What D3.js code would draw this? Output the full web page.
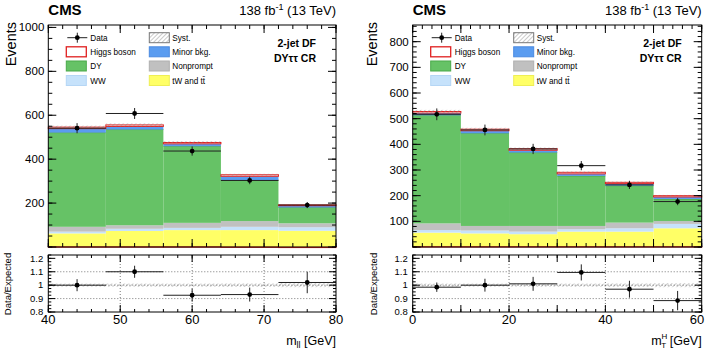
<!DOCTYPE html>
<html>
<head>
<meta charset="utf-8">
<script src="https://cdn.jsdelivr.net/npm/d3@7"></script>
<style>
  body { margin: 0; background: #fff; }
  svg { display: block; font-family: "Liberation Sans", Arial, sans-serif; }
</style>
</head>
<body>
<svg id="chart" width="706" height="352"></svg>
<script>
/* Two CMS-style stacked histograms (m_ll and m_T^H) with Data/Expected ratio pads. */

// ---- left: m_ll ----
var mllEdges = [40, 48, 56, 64, 72, 80];
var mllLow = [3, 3, 3, 2, 1];
var mllTop = [59, 70, 74, 75, 73];
var mllWW = [8, 10, 10, 15, 16];
var mllNonprompt = [22, 16, 23, 26, 18];
var mllDY = [429, 436, 349, 187, 72];
var mllMinor = [18, 14, 11, 17, 8];
var mllHiggs = [7, 7, 6, 7, 4];
var mllData = [541, 608, 437, 303, 191];
var mllDataErr = [23, 25, 21, 17, 14];
var mllRatio = [1.0, 1.10, 0.925, 0.93, 1.02];
var mllRatioErr = [0.045, 0.045, 0.048, 0.052, 0.08];
var mllSyst = [0.012, 0.012, 0.012, 0.013, 0.015];

// ---- right: m_T^H ----
var mthEdges = [0, 10, 20, 30, 40, 50, 60];
var mthLow = [3, 3, 3, 3, 3, 3];
var mthTop = [53, 50, 47, 57, 57, 70];
var mthWW = [10, 11, 10, 9, 13, 17];
var mthNonprompt = [26, 18, 22, 13, 22, 11];
var mthDY = [421, 361, 286, 195, 144, 86];
var mthMinor = [9, 10, 9, 8, 8, 8];
var mthHiggs = [6, 6, 6, 6, 5, 5];
var mthData = [517, 456, 382, 317, 242, 177];
var mthDataErr = [23, 21, 20, 18, 16, 14];
var mthRatio = [0.985, 1.0, 1.01, 1.095, 0.97, 0.885];
var mthRatioErr = [0.035, 0.048, 0.052, 0.06, 0.063, 0.072];
var mthSyst = [0.012, 0.012, 0.012, 0.012, 0.013, 0.015];

var svg = d3.select("#chart");
var defs = svg.append("defs");
var pat = defs.append("pattern").attr("id", "hatch").attr("patternUnits", "userSpaceOnUse")
  .attr("width", 3).attr("height", 3).attr("patternTransform", "rotate(45)");
pat.append("line").attr("x1", 0).attr("y1", 0).attr("x2", 0).attr("y2", 3)
  .attr("stroke", "#8a8a8a").attr("stroke-width", 0.9);

var C = {
  low: "#ff7a2a", top: "#ffff66", ww: "#c6e2fb", np: "#c0c0c0",
  dy: "#66c266", dyLine: "#3c9a3c", minor: "#5a9cf0", higgs: "#e02020"
};

function ticksX(g, x, vals, len, yb, yt) {
  vals.forEach(function (v) {
    g.append("line").attr("x1", x(v)).attr("x2", x(v)).attr("y1", yb).attr("y2", yb - len).attr("stroke", "#000");
    g.append("line").attr("x1", x(v)).attr("x2", x(v)).attr("y1", yt).attr("y2", yt + len).attr("stroke", "#000");
  });
}
function ticksY(g, y, vals, len, xl, xr) {
  vals.forEach(function (v) {
    g.append("line").attr("y1", y(v)).attr("y2", y(v)).attr("x1", xl).attr("x2", xl + len).attr("stroke", "#000");
    g.append("line").attr("y1", y(v)).attr("y2", y(v)).attr("x1", xr).attr("x2", xr - len).attr("stroke", "#000");
  });
}

function drawPanel(p) {
  var top = 25, bot = 247, rTop = 255, rBot = 312;
  var x = d3.scaleLinear().domain([p.edges[0], p.edges[p.edges.length - 1]]).range([p.x0, p.x1]);
  var y = d3.scaleLinear().domain([0, p.yMax]).range([bot, top]);
  var yr = d3.scaleLinear().domain([0.8, 1.225]).range([rBot, rTop]);
  var g = svg.append("g");
  var nb = p.edges.length - 1;

  var layers = [
    { v: p.low, fill: C.low, stroke: C.higgs },
    { v: p.top, fill: C.top, stroke: "none" },
    { v: p.ww, fill: C.ww, stroke: "none" },
    { v: p.np, fill: C.np, stroke: "none" },
    { v: p.dy, fill: C.dy, stroke: "none", topLine: C.dyLine },
    { v: p.minor, fill: C.minor, stroke: "none" },
    { v: p.higgs, fill: "#fff", stroke: C.higgs }
  ];
  var cum = d3.range(nb).map(function () { return 0; });
  layers.forEach(function (L) {
    for (var i = 0; i < nb; i++) {
      var lo = cum[i], hi = cum[i] + L.v[i];
      g.append("rect").attr("x", x(p.edges[i])).attr("width", x(p.edges[i + 1]) - x(p.edges[i]))
        .attr("y", y(hi)).attr("height", Math.max(0.8, y(lo) - y(hi)))
        .attr("fill", L.fill).attr("stroke", L.stroke).attr("stroke-width", 1);
      if (L.topLine) {
        g.append("line").attr("x1", x(p.edges[i])).attr("x2", x(p.edges[i + 1]))
          .attr("y1", y(hi)).attr("y2", y(hi)).attr("stroke", L.topLine).attr("stroke-width", 0.8);
      }
      cum[i] = hi;
    }
  });
  // syst band
  for (var i = 0; i < nb; i++) {
    g.append("rect").attr("x", x(p.edges[i])).attr("width", x(p.edges[i + 1]) - x(p.edges[i]))
      .attr("y", y(cum[i] * (1 + p.syst[i]))).attr("height", y(cum[i] * (1 - p.syst[i])) - y(cum[i] * (1 + p.syst[i])))
      .attr("fill", "url(#hatch)");
  }
  // data
  for (var i = 0; i < nb; i++) {
    var xc = x((p.edges[i] + p.edges[i + 1]) / 2);
    g.append("line").attr("x1", x(p.edges[i])).attr("x2", x(p.edges[i + 1]))
      .attr("y1", y(p.data[i])).attr("y2", y(p.data[i])).attr("stroke", "#222").attr("stroke-width", 1);
    g.append("line").attr("x1", xc).attr("x2", xc)
      .attr("y1", y(p.data[i] - p.dataErr[i])).attr("y2", y(p.data[i] + p.dataErr[i])).attr("stroke", "#222").attr("stroke-width", 1);
    g.append("circle").attr("cx", xc).attr("cy", y(p.data[i])).attr("r", 2.4).attr("fill", "#000");
  }
  // main frame + ticks
  g.append("rect").attr("x", p.x0).attr("y", top).attr("width", p.x1 - p.x0).attr("height", bot - top)
    .attr("fill", "none").attr("stroke", "#000");
  ticksY(g, y, p.yMinor, 4, p.x0, p.x1);
  ticksY(g, y, p.yMajor, 8, p.x0, p.x1);
  ticksX(g, x, p.xMinor, 4, bot, top);
  ticksX(g, x, p.xMajor, 8, bot, top);
  p.yMajor.filter(function (v) { return v > 0; }).forEach(function (v) {
    g.append("text").attr("x", p.x0 - 4).attr("y", y(v) + 4).attr("text-anchor", "end")
      .attr("font-size", 11.5).text(v);
  });

  // ratio pad
  var r = svg.append("g");
  for (var i = 0; i < nb; i++) {
    r.append("rect").attr("x", x(p.edges[i])).attr("width", x(p.edges[i + 1]) - x(p.edges[i]))
      .attr("y", yr(1 + p.syst[i])).attr("height", yr(1 - p.syst[i]) - yr(1 + p.syst[i]))
      .attr("fill", "url(#hatch)");
  }
  [0.9, 1.0, 1.1].forEach(function (v) {
    r.append("line").attr("x1", p.x0).attr("x2", p.x1).attr("y1", yr(v)).attr("y2", yr(v))
      .attr("stroke", "#555").attr("stroke-dasharray", "1,2").attr("stroke-width", 0.8);
  });
  p.xGrid.forEach(function (v) {
    r.append("line").attr("x1", x(v)).attr("x2", x(v)).attr("y1", rTop).attr("y2", rBot)
      .attr("stroke", "#555").attr("stroke-dasharray", "1,2").attr("stroke-width", 0.8);
  });
  for (var i = 0; i < nb; i++) {
    var xc = x((p.edges[i] + p.edges[i + 1]) / 2);
    r.append("line").attr("x1", x(p.edges[i])).attr("x2", x(p.edges[i + 1]))
      .attr("y1", yr(p.ratio[i])).attr("y2", yr(p.ratio[i])).attr("stroke", "#222");
    r.append("line").attr("x1", xc).attr("x2", xc)
      .attr("y1", yr(p.ratio[i] - p.ratioErr[i])).attr("y2", yr(p.ratio[i] + p.ratioErr[i])).attr("stroke", "#222");
    r.append("circle").attr("cx", xc).attr("cy", yr(p.ratio[i])).attr("r", 2.4).attr("fill", "#000");
  }
  r.append("rect").attr("x", p.x0).attr("y", rTop).attr("width", p.x1 - p.x0).attr("height", rBot - rTop)
    .attr("fill", "none").attr("stroke", "#000");
  ticksY(r, yr, d3.range(0.8, 1.2251, 0.025), 3, p.x0, p.x1);
  ticksY(r, yr, [0.8, 0.9, 1.0, 1.1, 1.2], 7, p.x0, p.x1);
  ticksX(r, x, p.xMinor, 3, rBot, rTop);
  ticksX(r, x, p.xMajor, 7, rBot, rTop);
  ["0.8", "0.9", "1", "1.1", "1.2"].forEach(function (t) {
    r.append("text").attr("x", p.x0 - 5).attr("y", yr(+t) + 3.3).attr("text-anchor", "end")
      .attr("font-size", 9.5).text(t);
  });
  p.xLabels.forEach(function (v) {
    // keep the last label inside the page edge
    var xp = Math.min(x(v), 697);
    r.append("text").attr("x", xp).attr("y", 324).attr("text-anchor", "middle")
      .attr("font-size", 13).text(v);
  });

  // titles
  svg.append("text").attr("transform", "translate(" + p.evX + ",22) rotate(-90)")
    .attr("text-anchor", "end").attr("font-size", 14.5).text("Events");
  svg.append("text").attr("transform", "translate(" + p.ratX + ",284) rotate(-90)")
    .attr("text-anchor", "middle").attr("font-size", 9.5).text("Data/Expected");
  var xt = svg.append("text").attr("x", p.x1).attr("y", 345).attr("text-anchor", "end").attr("font-size", 12.5);
  p.xTitle(xt);
  svg.append("text").attr("x", p.x0).attr("y", 14.5).attr("font-weight", "bold").attr("font-size", 15).text("CMS");
  var lt = svg.append("text").attr("x", p.x1).attr("y", 14.5).attr("text-anchor", "end").attr("font-size", 13);
  lt.append("tspan").text("138 fb");
  lt.append("tspan").attr("dy", -5).attr("font-size", 9).text("-1");
  lt.append("tspan").attr("dy", 5).text(" (13 TeV)");

  // legend
  var lg = svg.append("g").attr("font-size", 8.2);
  var rows = [37.7, 51.8, 66, 80.5];
  lg.append("line").attr("x1", p.x0 + 19).attr("x2", p.x0 + 39).attr("y1", rows[0]).attr("y2", rows[0]).attr("stroke", "#222");
  lg.append("line").attr("x1", p.x0 + 29).attr("x2", p.x0 + 29).attr("y1", rows[0] - 5).attr("y2", rows[0] + 5).attr("stroke", "#222");
  lg.append("circle").attr("cx", p.x0 + 29).attr("cy", rows[0]).attr("r", 2.4).attr("fill", "#000");
  lg.append("text").attr("x", p.x0 + 42).attr("y", rows[0] + 3).text("Data");
  var items = [
    { col: 0, row: 1, fill: "#fff", stroke: C.higgs, sw: 1.3, label: "Higgs boson" },
    { col: 0, row: 2, fill: C.dy, stroke: "#4aa94a", sw: 1, label: "DY" },
    { col: 0, row: 3, fill: C.ww, stroke: "#b5d6f5", sw: 1, label: "WW" },
    { col: 1, row: 0, fill: "url(#hatch)", stroke: "#777", sw: 1, label: "Syst." },
    { col: 1, row: 1, fill: C.minor, stroke: "#4a8ae0", sw: 1, label: "Minor bkg." },
    { col: 1, row: 2, fill: C.np, stroke: "#b0b0b0", sw: 1, label: "Nonprompt" },
    { col: 1, row: 3, fill: C.top, stroke: "#eeee55", sw: 1, label: "tW and tt\u0304" }
  ];
  items.forEach(function (it) {
    var bx = p.x0 + (it.col ? 101 : 18);
    lg.append("rect").attr("x", bx).attr("y", rows[it.row] - 5).attr("width", 20).attr("height", 10)
      .attr("fill", it.fill).attr("stroke", it.stroke).attr("stroke-width", it.sw);
    lg.append("text").attr("x", bx + (it.col ? 23 : 24)).attr("y", rows[it.row] + 3).text(it.label);
  });
  var cat = svg.append("g").attr("font-size", 10.5).attr("font-weight", "bold").attr("text-anchor", "end");
  cat.append("text").attr("x", p.x1 - 20).attr("y", 47).text("2-jet DF");
  cat.append("text").attr("x", p.x1 - 20).attr("y", 62).text("DY\u03c4\u03c4 CR");
}

drawPanel({
  x0: 48.3, x1: 336, evX: 16, ratX: 11,
  edges: mllEdges, low: mllLow, top: mllTop, ww: mllWW, np: mllNonprompt, dy: mllDY,
  minor: mllMinor, higgs: mllHiggs, data: mllData, dataErr: mllDataErr,
  ratio: mllRatio, ratioErr: mllRatioErr, syst: mllSyst,
  yMax: 1011, yMajor: d3.range(0, 1001, 200), yMinor: d3.range(0, 1011, 50),
  xMajor: d3.range(40, 81, 10), xMinor: d3.range(40, 81, 2), xLabels: [40, 50, 60, 70, 80],
  xGrid: [50, 60, 70],
  xTitle: function (t) {
    t.append("tspan").text("m");
    t.append("tspan").attr("dy", 3).attr("font-size", 9).text("ll");
    t.append("tspan").attr("dy", -3).text(" [GeV]");
  }
});

drawPanel({
  x0: 412.7, x1: 701.7, evX: 377, ratX: 377,
  edges: mthEdges, low: mthLow, top: mthTop, ww: mthWW, np: mthNonprompt, dy: mthDY,
  minor: mthMinor, higgs: mthHiggs, data: mthData, dataErr: mthDataErr,
  ratio: mthRatio, ratioErr: mthRatioErr, syst: mthSyst,
  yMax: 865, yMajor: d3.range(0, 801, 100), yMinor: d3.range(0, 865, 20),
  xMajor: d3.range(0, 61, 10), xMinor: d3.range(0, 61, 2), xLabels: [0, 20, 40, 60],
  xGrid: [20, 40],
  xTitle: function (t) {
    t.append("tspan").text("m");
    t.append("tspan").attr("dy", -6).attr("font-size", 8).text("H");
    t.append("tspan").attr("dx", -6).attr("dy", 9).attr("font-size", 8).text("T");
    t.append("tspan").attr("dy", -3).text(" [GeV]");
  }
});
</script>
</body>
</html>
